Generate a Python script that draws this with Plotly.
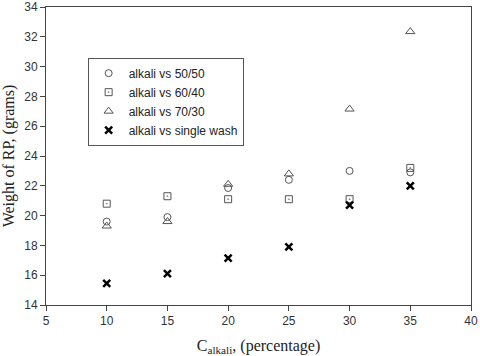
import plotly.graph_objects as go

alkali = [10, 15, 20, 25, 30, 35]
wash_50_50 = [19.6, 19.9, 21.85, 22.4, 23.0, 22.9]
wash_60_40 = [20.8, 21.3, 21.1, 21.1, 21.1, 23.2]
wash_70_30 = [19.3, 19.6, 22.1, 22.8, 27.15, 32.35]
single_wash = [15.45, 16.1, 17.15, 17.9, 20.7, 22.0]

fig = go.Figure()
fig.add_scatter(x=alkali, y=wash_50_50, mode='markers', name='alkali vs 50/50',
                marker=dict(symbol='circle-open', size=7, color='#555555', line=dict(width=1)))
fig.add_scatter(x=alkali, y=wash_60_40, mode='markers', name='alkali vs 60/40',
                marker=dict(symbol='square-open-dot', size=7, color='#555555', line=dict(width=1)))
fig.add_scatter(x=alkali, y=wash_70_30, mode='markers', name='alkali vs 70/30',
                marker=dict(symbol='triangle-up-open', size=8, color='#555555', line=dict(width=1)))
fig.add_scatter(x=alkali, y=single_wash, mode='markers', name='alkali vs single wash',
                marker=dict(symbol='x-thin-open', size=7, color='black', line=dict(width=2.5)))

axis_style = dict(showline=True, linecolor='#444444', linewidth=1, mirror=True, automargin=False,
                  ticks='outside', ticklen=5, tickcolor='#444444', showgrid=False, zeroline=False,
                  tickfont=dict(family='Arial, Liberation Sans', size=12, color='#333333'))

fig.update_layout(
    width=480, height=356,
    margin=dict(l=46, r=9, t=7, b=51),
    plot_bgcolor='white', paper_bgcolor='white',
    xaxis=dict(range=[5, 40], dtick=5, **axis_style,
               title=dict(text='C<sub>alkali</sub>, (percentage)', standoff=12,
                          font=dict(family='Times New Roman, Liberation Serif', size=16, color='#222222'))),
    yaxis=dict(range=[14, 34], dtick=2, **axis_style,
               title=dict(text='Weight of RP, (grams)', standoff=6,
                          font=dict(family='Times New Roman, Liberation Serif', size=16, color='#222222'))),
    legend=dict(x=0.098, y=0.83, xanchor='left', yanchor='top',
                bordercolor='#555555', borderwidth=1, bgcolor='white',
                font=dict(family='Arial, Liberation Sans', size=12, color='#222222'),
                tracegroupgap=0, itemwidth=30),
    showlegend=True,
)
fig.write_html("out.html", config={'displayModeBar': False},
               post_script="document.body.style.margin='0';")
